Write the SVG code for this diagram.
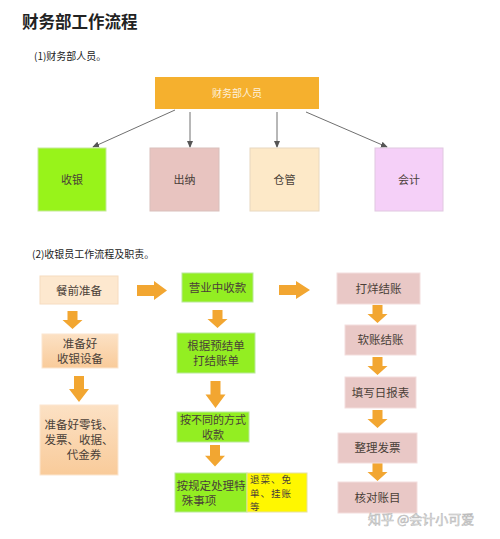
<svg xmlns="http://www.w3.org/2000/svg" width="500" height="539" viewBox="0 0 500 539">
<style>
.t{font-family:"Noto Sans CJK SC","Liberation Sans",sans-serif;fill:#4a3f38;text-anchor:middle}
.h{font-family:"Noto Sans CJK SC","Liberation Sans",sans-serif;fill:#222}
.conn{stroke:#707070;stroke-width:1;fill:none}
.arr{fill:#F2A631}
.grn{fill:#93EE22;stroke:#b8e89a;stroke-width:1}
.pnk{fill:#E9C8C6;stroke:#f3dedd;stroke-width:1}
</style>
<defs>
<marker id="ah" viewBox="0 0 8 8" refX="7" refY="4" markerWidth="7" markerHeight="7" orient="auto"><path d="M0,0.5 L8,4 L0,7.5 z" fill="#555"/></marker>
<linearGradient id="peach" x1="0" y1="0" x2="0" y2="1"><stop offset="0" stop-color="#FCE1C4"/><stop offset="1" stop-color="#F9CB9A"/></linearGradient>
<path id="dn" d="M-5,0 H5 V9 H10 L0,18 L-10,9 H-5 Z"/>
</defs>
<rect width="500" height="539" fill="#fff"/>
<text class="h" x="22" y="28" font-size="16.5" font-weight="bold">财务部工作流程</text>
<text class="h" x="34" y="60" font-size="10">(1)财务部人员。</text>
<text class="h" x="32" y="258" font-size="10">(2)收银员工作流程及职责。</text>

<g id="connectors">
<line class="conn" x1="175" y1="110" x2="93" y2="147" marker-end="url(#ah)"/>
<line class="conn" x1="190" y1="112" x2="190" y2="147" marker-end="url(#ah)"/>
<line class="conn" x1="277" y1="112" x2="277" y2="147" marker-end="url(#ah)"/>
<line class="conn" x1="306" y1="112" x2="387" y2="147" marker-end="url(#ah)"/>
<path class="arr" d="M137,285 H154 V281 L167,290.5 L154,300 V296 H137 Z"/>
<path class="arr" d="M279,285 H296 V281 L310,290 L296,299 V295 H279 Z"/>
<use href="#dn" class="arr" transform="translate(72.5,311)"/>
<use href="#dn" class="arr" transform="translate(79,376) scale(1,1.45)"/>
<use href="#dn" class="arr" transform="translate(217.5,310)"/>
<use href="#dn" class="arr" transform="translate(215.5,381) scale(1,1.5)"/>
<use href="#dn" class="arr" transform="translate(215,445) scale(1,1.2)"/>
<use href="#dn" class="arr" transform="translate(377.5,305)"/>
<use href="#dn" class="arr" transform="translate(377.5,357)"/>
<use href="#dn" class="arr" transform="translate(377.5,410)"/>
<use href="#dn" class="arr" transform="translate(377.5,463)"/>
</g>

<g id="n-top"><rect x="155" y="77" width="164" height="32" fill="#F5B02E"/><text class="t" x="237" y="96.5" font-size="10" style="fill:#fdf1dc">财务部人员</text></g>
<g id="n-shouyin"><rect x="38" y="148" width="68" height="63" fill="#98F31A" stroke="#c5e89a"/><text class="t" x="72" y="183.5" font-size="11">收银</text></g>
<g id="n-chuna"><rect x="150" y="148" width="69" height="63" fill="#E8C4C0" stroke="#d9c0bc"/><text class="t" x="184.5" y="183.5" font-size="11">出纳</text></g>
<g id="n-cangguan"><rect x="250" y="148" width="69" height="63" fill="#FDE9C8" stroke="#e8d8c0"/><text class="t" x="284.5" y="183.5" font-size="11">仓管</text></g>
<g id="n-kuaiji"><rect x="375" y="148" width="68" height="63" fill="#F5D0F8" stroke="#e0c8e0"/><text class="t" x="409" y="183.5" font-size="11">会计</text></g>

<g id="n-canqian"><rect x="40" y="276" width="78" height="28" fill="#FDE8CF" stroke="#f6dcc0"/><text class="t" x="79" y="294.5" font-size="11.5">餐前准备</text></g>
<g id="n-shebei"><rect x="42" y="334" width="76" height="34" fill="url(#peach)" stroke="#fbe6d0"/><text class="t" x="80" y="348" font-size="11.5">准备好</text><text class="t" x="80" y="363" font-size="11.5">收银设备</text></g>
<g id="n-lingqian"><rect x="40" y="405" width="78" height="70" fill="url(#peach)" stroke="#fbe6d0"/><text class="t" x="79" y="429" font-size="11.5">准备好零钱、</text><text class="t" x="79" y="444" font-size="11.5">发票、收据、</text><text class="t" x="84" y="459" font-size="11.5">代金券</text></g>

<g id="n-yingye"><rect x="182" y="273" width="71" height="29" class="grn"/><text class="t" x="217.5" y="291.5" font-size="11.5">营业中收款</text></g>
<g id="n-genju"><rect x="177" y="333" width="78" height="40" class="grn"/><text class="t" x="216" y="350" font-size="11.5">根据预结单</text><text class="t" x="216" y="365" font-size="11.5">打结账单</text></g>
<g id="n-fangshi"><rect x="177" y="412" width="72" height="30" class="grn"/><text class="t" x="213" y="423.5" font-size="11">按不同的方式</text><text class="t" x="213" y="438.5" font-size="11">收款</text></g>
<g id="n-teshu"><rect x="175" y="473" width="72" height="39" class="grn"/><text class="t" x="211" y="490" font-size="11.5">按规定处理特</text><text class="t" x="199" y="505" font-size="11.5">殊事项</text></g>
<g id="n-tuicai"><rect x="247" y="473" width="60" height="39" fill="#FFF700" stroke="#e6e0a0"/><text class="t" font-size="9.5" style="text-anchor:start" letter-spacing="1"><tspan x="250" y="483">退菜、免</tspan><tspan x="250" y="496.5">单、挂账</tspan><tspan x="250" y="510">等</tspan></text></g>

<g id="n-dayang"><rect x="337" y="273" width="83" height="31" class="pnk"/><text class="t" x="378.5" y="292.5" font-size="11.5">打烊结账</text></g>
<g id="n-ruanzhang"><rect x="345" y="325" width="71" height="30" class="pnk"/><text class="t" x="380.5" y="344" font-size="11.5">软账结账</text></g>
<g id="n-ribao"><rect x="345" y="377" width="71" height="31" class="pnk"/><text class="t" x="380.5" y="396.5" font-size="11.5">填写日报表</text></g>
<g id="n-fapiao"><rect x="338" y="433" width="79" height="30" class="pnk"/><text class="t" x="377.5" y="452" font-size="11.5">整理发票</text></g>
<g id="n-hedui"><rect x="338" y="482" width="79" height="31" class="pnk"/><text class="t" x="377.5" y="501.5" font-size="11.5">核对账目</text></g>

<text x="368" y="524" font-size="13" font-family="Noto Sans CJK SC, sans-serif" fill="#f4f4f4" stroke="#b8b8b8" stroke-width="0.6">知乎 @会计小可爱</text>
</svg>
